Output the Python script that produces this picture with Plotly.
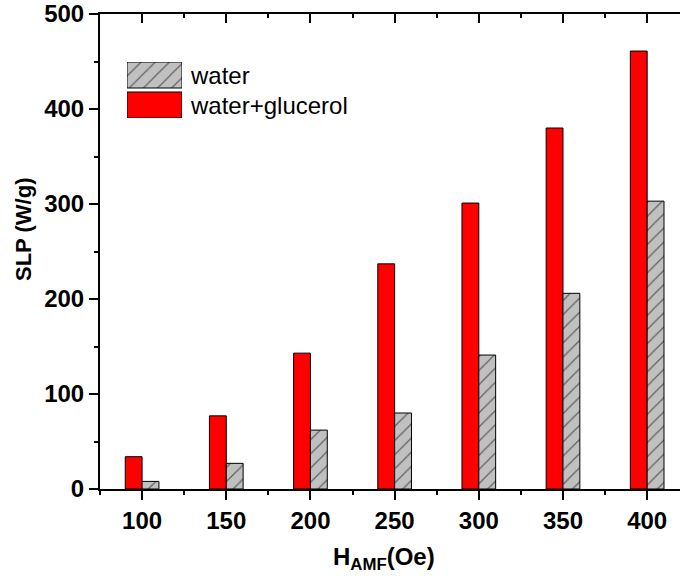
import plotly.graph_objects as go

# ---- data ----
fields = [100, 150, 200, 250, 300, 350, 400]          # H_AMF (Oe)
slp_water = [8, 27, 62, 80, 141, 206, 303]             # W/g
slp_water_glycerol = [34, 77, 143, 237, 301, 380, 461] # W/g
series_names = ["water", "water+glucerol"]
bar_width = 10

W, H = 680, 579
L, R, T, B = 100, 0, 14, 90
PW, PH = W - L - R, H - T - B

def px(x):
    return (x - L) / PW

def py(y):
    return (H - B - y) / PH

FONT = "Liberation Sans, Arial, sans-serif"

fig = go.Figure()

fig.add_trace(go.Bar(
    x=fields, y=slp_water_glycerol, width=bar_width, offset=-bar_width,
    name=series_names[1],
    marker=dict(color="#ff0000", line=dict(color="black", width=1)),
))
fig.add_trace(go.Bar(
    x=fields, y=slp_water, width=bar_width, offset=0,
    name=series_names[0],
    marker=dict(color="#c0c0c0", line=dict(color="black", width=1),
                pattern=dict(shape="/", bgcolor="#c0c0c0", fgcolor="black",
                             size=10, solidity=0.12)),
))

# legend swatches drawn as small bars in their own tiny axis
fig.add_trace(go.Bar(
    x=[0.5], y=[26], base=[30], width=1, xaxis="x3", yaxis="y3",
    marker=dict(color="#c0c0c0", line=dict(color="black", width=1),
                pattern=dict(shape="/", bgcolor="#c0c0c0", fgcolor="black",
                             size=10, solidity=0.12)),
    hoverinfo="skip",
))
fig.add_trace(go.Bar(
    x=[0.5], y=[26], base=[0], width=1, xaxis="x3", yaxis="y3",
    marker=dict(color="#ff0000", line=dict(color="black", width=1)),
    hoverinfo="skip",
))

tickfont = dict(family=FONT, size=24, color="black", weight="bold")
xr = [75, 419.5]

fig.update_layout(
    width=W, height=H,
    margin=dict(l=L, r=R, t=T, b=B),
    plot_bgcolor="white", paper_bgcolor="white",
    showlegend=False, barmode="overlay",
    xaxis=dict(
        range=xr, tickmode="linear", tick0=100, dtick=50,
        ticks="outside", ticklen=9, tickwidth=2, tickcolor="black",
        showline=True, linewidth=2, linecolor="black",
        showgrid=False, zeroline=False, tickfont=tickfont,
        minor=dict(ticks="outside", ticklen=4, tickwidth=2, tickcolor="black",
                   tick0=75, dtick=25, showgrid=False),
    ),
    xaxis2=dict(
        overlaying="x", side="top", anchor="y", range=xr,
        tickmode="linear", tick0=100, dtick=50,
        ticks="inside", ticklen=9, tickwidth=2, tickcolor="black",
        showline=True, linewidth=2, linecolor="black",
        showgrid=False, zeroline=False, showticklabels=False,
        minor=dict(ticks="inside", ticklen=4, tickwidth=2, tickcolor="black",
                   tick0=75, dtick=25, showgrid=False),
    ),
    yaxis=dict(
        range=[0, 500], tickmode="linear", tick0=0, dtick=100,
        ticks="outside", ticklen=9, tickwidth=2, tickcolor="black",
        showline=True, linewidth=2, linecolor="black",
        showgrid=False, zeroline=False, tickfont=tickfont,
        minor=dict(ticks="outside", ticklen=4, tickwidth=2, tickcolor="black",
                   tick0=0, dtick=50, showgrid=False),
    ),
    xaxis3=dict(domain=[px(127), px(182)], anchor="y3", range=[0, 1],
                visible=False, fixedrange=True),
    yaxis3=dict(domain=[py(118), py(62)], anchor="x3", range=[0, 56],
                visible=False, fixedrange=True),
)

# invisible trace so the top axis is rendered
fig.add_trace(go.Scatter(x=[None], y=[None], xaxis="x2", yaxis="y",
                         showlegend=False, hoverinfo="skip"))

fig.add_annotation(text=series_names[0], xref="paper", yref="paper",
                   x=px(188), y=py(75), xanchor="left", yanchor="middle",
                   showarrow=False, font=dict(family=FONT, size=24, color="black"))
fig.add_annotation(text=series_names[1], xref="paper", yref="paper",
                   x=px(188), y=py(105), xanchor="left", yanchor="middle",
                   showarrow=False, font=dict(family=FONT, size=24, color="black"))

fig.add_annotation(text="<b>H<sub>AMF</sub>(Oe)</b>", xref="paper", yref="paper",
                   x=px(384), y=py(558), xanchor="center", yanchor="middle",
                   showarrow=False, font=dict(family=FONT, size=24, color="black"))
fig.add_annotation(text="<b>SLP (W/g)</b>", xref="paper", yref="paper",
                   x=px(24), y=py(230), xanchor="center", yanchor="middle",
                   textangle=-90, showarrow=False,
                   font=dict(family=FONT, size=22, color="black"))

fig.write_html("out.html")
